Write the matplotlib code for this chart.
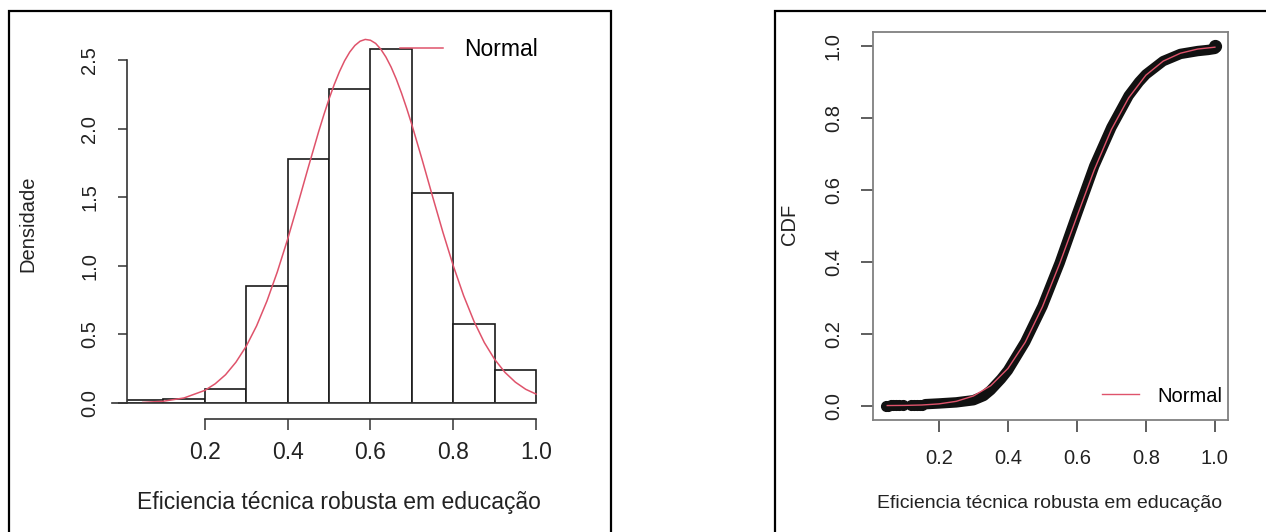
import matplotlib
matplotlib.use('Agg')
import matplotlib.pyplot as plt
from matplotlib.patches import Rectangle

plt.rcParams['font.family'] = ['Liberation Sans', 'DejaVu Sans']

# ---- data ----
# histogram: bin left edges (width 0.1) and densities
bin_left = [0.0, 0.1, 0.2, 0.3, 0.4, 0.5, 0.6, 0.7, 0.8, 0.9]
densidade = [0.02, 0.03, 0.105, 0.85, 1.78, 2.29, 2.58, 1.53, 0.575, 0.24]

# fitted normal density (red curve)
dens_x = [0.05, 0.10, 0.15, 0.20, 0.225, 0.25, 0.275, 0.30, 0.325, 0.35, 0.375,
          0.40, 0.425, 0.45, 0.475, 0.4875, 0.50, 0.5125, 0.525, 0.5375, 0.55, 0.5625,
          0.575, 0.5875, 0.60, 0.6125, 0.625, 0.6375, 0.65, 0.6625, 0.675, 0.6875,
          0.70, 0.725, 0.75, 0.775, 0.80, 0.825, 0.85, 0.875, 0.90, 0.925,
          0.95, 0.975, 1.00]
dens_y = [0.004, 0.013, 0.037, 0.092, 0.140, 0.206, 0.297, 0.414, 0.562, 0.743, 0.955,
          1.194, 1.453, 1.719, 1.979, 2.101, 2.216, 2.321, 2.414, 2.494, 2.558, 2.606,
          2.637, 2.650, 2.644, 2.621, 2.579, 2.521, 2.448, 2.360, 2.259, 2.148,
          2.029, 1.772, 1.506, 1.245, 1.001, 0.783, 0.596, 0.441, 0.318, 0.223,
          0.152, 0.100, 0.065]

# empirical CDF (black points)
tail_x = [0.045, 0.052, 0.060, 0.068, 0.075, 0.085, 0.095, 0.120, 0.128, 0.137, 0.145, 0.152]
tail_y = [0.000, 0.000, 0.001, 0.001, 0.001, 0.001, 0.002, 0.002, 0.002, 0.003, 0.003, 0.003]
ecdf_x = [0.16, 0.20, 0.25, 0.30, 0.33, 0.35, 0.38, 0.40, 0.45, 0.50, 0.55, 0.60,
          0.65, 0.70, 0.75, 0.78, 0.80, 0.85, 0.90, 0.95, 0.98, 1.00]
ecdf_y = [0.004, 0.006, 0.009, 0.015, 0.027, 0.043, 0.074, 0.098, 0.177, 0.276, 0.397, 0.533,
          0.666, 0.774, 0.862, 0.900, 0.921, 0.958, 0.978, 0.986, 0.989, 0.992]
last_x = [1.0]
last_y = [1.0]

# fitted normal CDF (red line)
cdf_x = [0.05, 0.10, 0.15, 0.20, 0.25, 0.30, 0.35, 0.40, 0.45, 0.50,
         0.55, 0.60, 0.65, 0.70, 0.75, 0.80, 0.85, 0.90, 0.95, 1.00]
cdf_y = [0.0002, 0.0006, 0.0017, 0.0048, 0.0119, 0.0268, 0.0554, 0.1034, 0.176, 0.275,
         0.395, 0.526, 0.655, 0.768, 0.856, 0.919, 0.958, 0.980, 0.9916, 0.9968]

xlabel = 'Eficiencia técnica robusta em educação'
red = '#DF536B'

W, H = 1266, 532


def box(x0, y0, x1, y1):
    # pixel box (top-left origin) -> figure fraction
    return [x0 / W, 1 - y1 / H, (x1 - x0) / W, (y1 - y0) / H]


fig = plt.figure(figsize=(W / 100, H / 100), dpi=100)

# frames around the two panels
fig.add_artist(Rectangle((9 / W, 1 - 560 / H), 602 / W, 549 / H, transform=fig.transFigure,
                         fill=False, ec='black', lw=1.6, clip_on=False))
fig.add_artist(Rectangle((775 / W, 1 - 560 / H), 520 / W, 549 / H, transform=fig.transFigure,
                         fill=False, ec='black', lw=1.6, clip_on=False))

# ========================================================================
# Left: histogram + normal density
# ========================================================================
ax1 = fig.add_axes(box(127, 25.7, 537.7, 403))
ax1.bar(bin_left, densidade, width=0.1, align='edge', facecolor='white',
        edgecolor='#1a1a1a', lw=1.2)
ax1.plot(dens_x, dens_y, color=red, lw=1.1, label='Normal')
ax1.set_xlim(0.012, 1.004)
ax1.set_ylim(0, 2.75)
x_lo = ax1.get_xlim()[0]
ax1.plot([x_lo - 0.036, 1.0], [0, 0], color='#333333', lw=1.2, clip_on=False)

for s in ['top', 'right']:
    ax1.spines[s].set_visible(False)
ax1.spines['left'].set_bounds(0, 2.5)
ax1.spines['bottom'].set_position(('outward', 11.5))
ax1.spines['bottom'].set_bounds(0.2, 1.0)
for s in ['left', 'bottom']:
    ax1.spines[s].set_color('#333333')
    ax1.spines[s].set_linewidth(1.2)

ax1.set_xticks([0.2, 0.4, 0.6, 0.8, 1.0])
ax1.set_xticklabels(['0.2', '0.4', '0.6', '0.8', '1.0'])
ax1.set_yticks([0.0, 0.5, 1.0, 1.5, 2.0, 2.5])
ax1.set_yticklabels(['0.0', '0.5', '1.0', '1.5', '2.0', '2.5'], rotation=90, va='center')
ax1.tick_params(axis='x', length=8, width=1.1, color='#333333', pad=8,
                labelsize=16.5, labelcolor='#222222')
ax1.tick_params(axis='y', length=6.5, width=1.1, color='#333333', pad=13.5,
                labelsize=14.5, labelcolor='#222222')
ax1.legend(loc='center left', bbox_to_anchor=(400 / W, 1 - 50 / H),
           bbox_transform=fig.transFigure, frameon=False, borderpad=0,
           borderaxespad=0, handlelength=1.88, handletextpad=0.92, fontsize=16.5)

fig.text(28 / W, 1 - 224 / H, 'Densidade', rotation=90, ha='center', va='center',
         fontsize=14.5, color='#222222')
fig.text(339 / W, 1 - 503 / H, xlabel, ha='center', va='center', fontsize=16.5,
         color='#222222')

# ========================================================================
# Right: empirical CDF vs normal CDF
# ========================================================================
ax2 = fig.add_axes(box(873, 32, 1228, 420))
ax2.plot(ecdf_x, ecdf_y, color='#111111', lw=7.5, solid_capstyle='round',
         solid_joinstyle='round')
ax2.plot(tail_x, tail_y, 'o', color='#111111', ms=7)
ax2.plot(last_x, last_y, 'o', color='#111111', ms=8.5)
ax2.plot(cdf_x, cdf_y, color=red, lw=1.0, label='Normal')
ax2.set_xlim(0.0087, 1.038)
ax2.set_ylim(-0.04, 1.039)

for s in ax2.spines.values():
    s.set_color('#808080')
    s.set_linewidth(1.3)
ax2.set_xticks([0.2, 0.4, 0.6, 0.8, 1.0])
ax2.set_xticklabels(['0.2', '0.4', '0.6', '0.8', '1.0'])
ax2.set_yticks([0.0, 0.2, 0.4, 0.6, 0.8, 1.0])
ax2.set_yticklabels(['0.0', '0.2', '0.4', '0.6', '0.8', '1.0'], rotation=90, va='center')
ax2.tick_params(axis='x', length=8.6, width=1.1, color='#333333', pad=12,
                labelsize=14.5, labelcolor='#222222')
ax2.tick_params(axis='y', length=8.6, width=1.1, color='#333333', pad=13,
                labelsize=14.5, labelcolor='#222222')
ax2.legend(loc='center left', bbox_to_anchor=(1102 / W, 1 - 396 / H),
           bbox_transform=fig.transFigure, frameon=False, borderpad=0,
           borderaxespad=0, handlelength=1.85, handletextpad=0.88, fontsize=14.5)

fig.text(790 / W, 1 - 224 / H, 'CDF', rotation=90, ha='center', va='center',
         fontsize=14.5, color='#222222')
fig.text(1050 / W, 1 - 503 / H, xlabel, ha='center', va='center', fontsize=14,
         color='#222222')

plt.savefig('out.png', dpi=100)
